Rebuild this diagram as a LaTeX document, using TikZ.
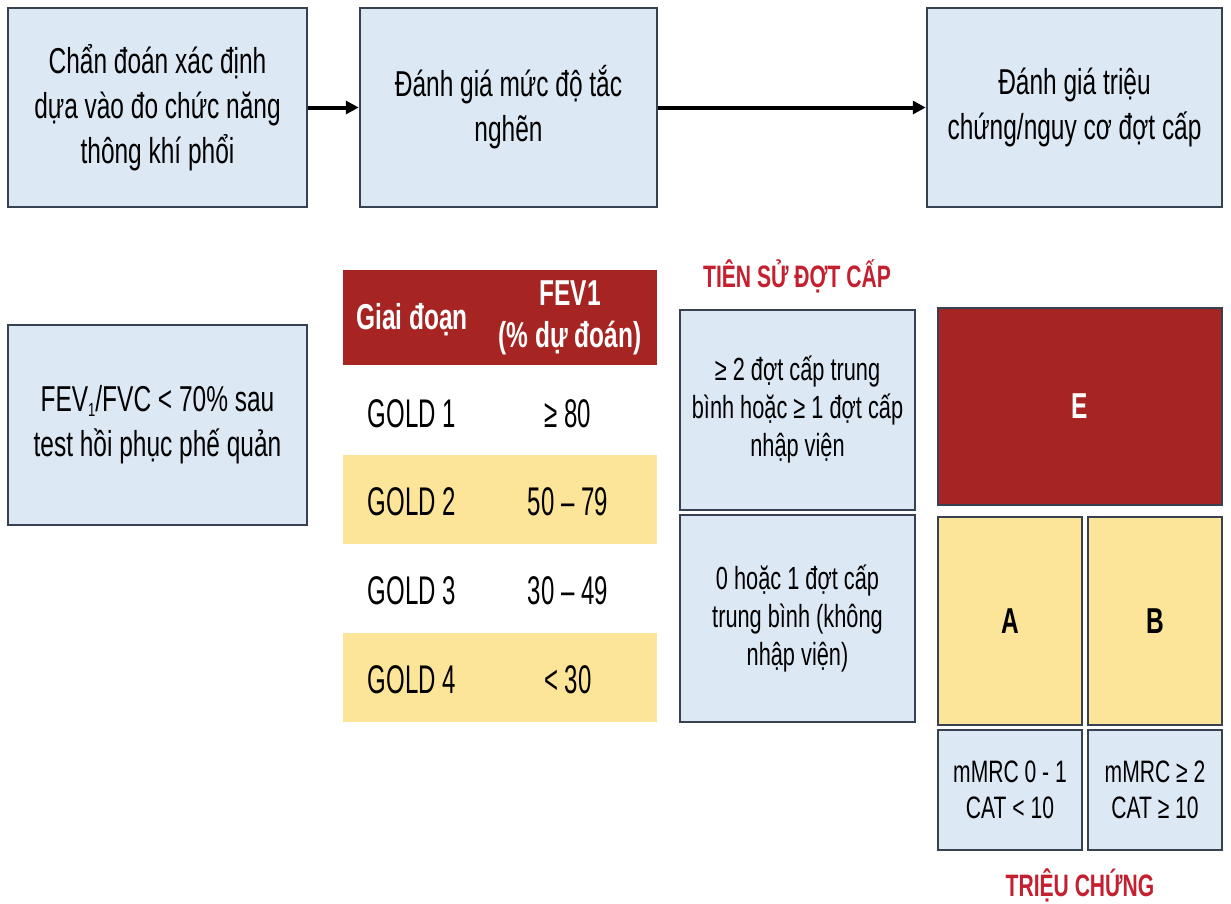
\documentclass[tikz,border=0pt]{standalone}
\usepackage{fontspec}
\setmainfont{Liberation Sans}
\newfontfamily\boxfont{Liberation Sans}[FakeStretch=0.68]
\newfontfamily\tabfont{Liberation Sans}[FakeStretch=0.6]
\usetikzlibrary{arrows.meta}
\definecolor{boxblue}{RGB}{221,232,245}
\definecolor{bordc}{RGB}{55,65,82}
\definecolor{darkred}{RGB}{166,36,34}
\definecolor{goldy}{RGB}{252,228,152}
\definecolor{lblred}{RGB}{196,32,48}
\newcommand{\smallsub}[1]{\raisebox{-0.25ex}{\fontsize{19}{19}\selectfont #1}}
\begin{document}
\begin{tikzpicture}[x=1pt,y=-1pt,
  bx/.style={draw=bordc, line width=2.5pt, fill=boxblue, inner sep=0pt, align=center,
             font=\boxfont\fontsize{36}{45}\selectfont},
  histbox/.style={bx, font=\boxfont\fontsize{32}{38}\selectfont},
  symbox/.style={bx, font=\boxfont\fontsize{31}{36}\selectfont},
  grpbox/.style={draw=bordc, line width=2.5pt, inner sep=0pt, font=\boxfont\bfseries\fontsize{36}{40}\selectfont},
  rowbg/.style={draw=none, inner sep=0pt, minimum width=314pt, minimum height=89pt},
  celltxt/.style={inner sep=0pt, anchor=base, font=\tabfont\fontsize{40}{44}\selectfont},
  hdrtxt/.style={inner sep=0pt, align=center, text=white, font=\boxfont\bfseries\fontsize{36}{42}\selectfont},
  redlbl/.style={inner sep=0pt, text=lblred, font=\boxfont\bfseries\fontsize{31}{36}\selectfont},
  flow/.style={line width=4pt, -{Triangle[length=13pt,width=13pt]}}
]
\useasboundingbox (0,0) rectangle (1231,903);
\fill[white] (0,0) rectangle (1231,903);

% top row
\node[bx, minimum width=299pt, minimum height=199pt] (b1) at (157.5,107.5)
  {Chẩn đoán xác định\\dựa vào đo chức năng\\thông khí phổi};
\node[bx, minimum width=297pt, minimum height=199pt] (b2) at (508.5,107.5)
  {Đánh giá mức độ tắc\\nghẽn};
\node[bx, minimum width=295pt, minimum height=199pt] (b3) at (1074.5,107.5)
  {Đánh giá triệu\\chứng/nguy cơ đợt cấp};
\draw[flow] (b1.east) -- (b2.west);
\draw[flow] (b2.east) -- (b3.west);

% left box
\node[bx, minimum width=299pt, minimum height=200pt] (fev) at (157.5,425)
  {FEV\smallsub{1}/FVC < 70\% sau\\test hồi phục phế quản};

% table
\node[rowbg, fill=darkred, minimum height=95pt] (hdr) at (500,317.5) {};
\node[hdrtxt] (h1) at (412,320) {Giai đoạn};
\node[hdrtxt] (h2) at (570,318) {FEV1\\(\% dự đoán)};
\node[rowbg] (r1) at (500,410) {};
\node[rowbg, fill=goldy] (r2) at (500,499) {};
\node[rowbg] (r3) at (500,587.5) {};
\node[rowbg, fill=goldy] (r4) at (500,677.5) {};
\node[celltxt] (g1) at (412,427) {GOLD 1};
\node[celltxt] (v1) at (568,427) {≥ 80};
\node[celltxt] (g2) at (412,515) {GOLD 2};
\node[celltxt] (v2) at (568,515) {50 – 79};
\node[celltxt] (g3) at (412,604) {GOLD 3};
\node[celltxt] (v3) at (568,604) {30 – 49};
\node[celltxt] (g4) at (412,693) {GOLD 4};
\node[celltxt] (v4) at (568,693) {< 30};

% history
\node[redlbl] (tslbl) at (797,276) {TIÊN SỬ ĐỢT CẤP};
\node[histbox, minimum width=235pt, minimum height=200pt] (hi) at (797.5,410)
  {≥ 2 đợt cấp trung\\bình hoặc ≥ 1 đợt cấp\\nhập viện};
\node[histbox, minimum width=235pt, minimum height=207pt] (lo) at (797.5,618.5)
  {0 hoặc 1 đợt cấp\\trung bình (không\\nhập viện)};

% groups
\node[grpbox, fill=darkred, text=white, minimum width=284pt, minimum height=197pt] (E) at (1080,406.5) {E};
\node[grpbox, fill=goldy, minimum width=144pt, minimum height=208pt] (A) at (1010,621) {A};
\node[grpbox, fill=goldy, minimum width=134pt, minimum height=208pt] (B) at (1155,621) {B};
\node[symbox, minimum width=144pt, minimum height=120pt] (s1) at (1010,790)
  {mMRC 0 - 1\\CAT < 10};
\node[symbox, minimum width=134pt, minimum height=120pt] (s2) at (1155,790)
  {mMRC ≥ 2\\CAT ≥ 10};
\node[redlbl] (tclbl) at (1080,885) {TRIỆU CHỨNG};
\end{tikzpicture}
\end{document}
